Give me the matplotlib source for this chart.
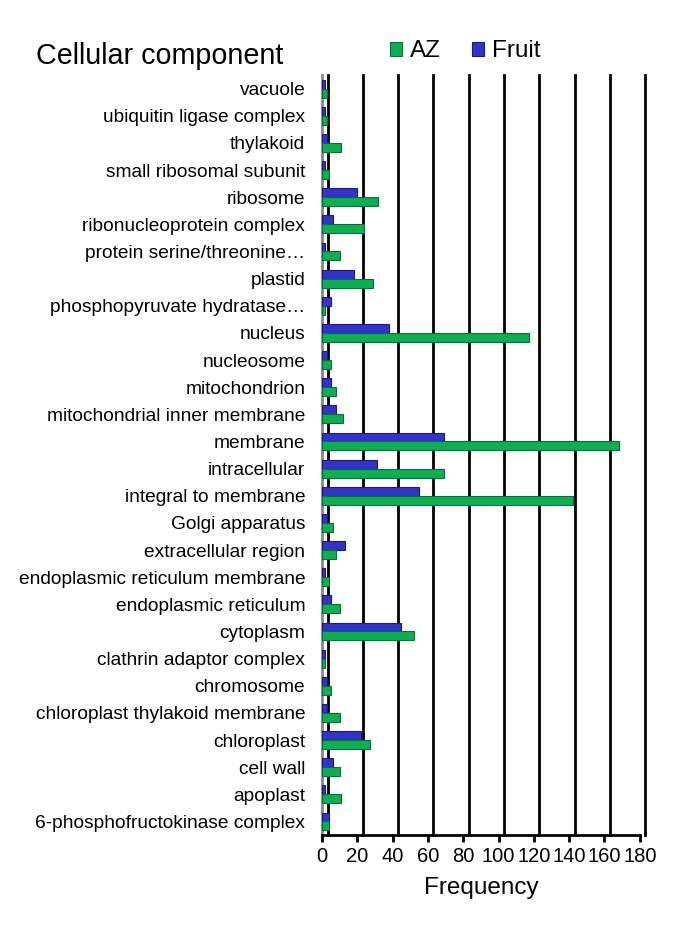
import numpy as np
import matplotlib.pyplot as plt
import matplotlib.transforms as mtransforms

plt.rcParams['font.family'] = ['Liberation Sans', 'DejaVu Sans']

categories = [
    'vacuole', 'ubiquitin ligase complex', 'thylakoid', 'small ribosomal subunit',
    'ribosome', 'ribonucleoprotein complex', 'protein serine/threonine…', 'plastid',
    'phosphopyruvate hydratase…', 'nucleus', 'nucleosome', 'mitochondrion',
    'mitochondrial inner membrane', 'membrane', 'intracellular', 'integral to membrane',
    'Golgi apparatus', 'extracellular region', 'endoplasmic reticulum membrane',
    'endoplasmic reticulum', 'cytoplasm', 'clathrin adaptor complex', 'chromosome',
    'chloroplast thylakoid membrane', 'chloroplast', 'cell wall', 'apoplast',
    '6-phosphofructokinase complex',
]
fruit = [2, 2, 3, 2, 20, 6, 1.5, 18, 5, 38, 3, 5, 8, 69, 31, 55,
         3, 13, 1.5, 5, 45, 2, 3, 3, 22, 6, 1.5, 4]
az = [3, 3, 11, 4, 32, 24, 10, 29, 2, 117, 5, 8, 12, 168, 69, 142,
      6, 8, 4, 10, 52, 2, 5, 10, 27, 10, 11, 4]

fig = plt.figure(figsize=(6.85, 9.32), dpi=100)
ax = fig.add_axes([0.470, 0.104, 0.464, 0.8155])

y = np.arange(len(categories))
h = 0.33
ax.barh(y - h / 2, fruit, height=h, color='#3333CC', edgecolor='#1a1a80', linewidth=0.8, label='Fruit', zorder=3)
ax.barh(y + h / 2, az, height=h, color='#0DB050', edgecolor='#07703a', linewidth=0.8, label='AZ', zorder=3)

ax.set_ylim(len(categories) - 0.5, -0.5)
ax.set_xlim(0, 180)
ax.set_xticks(range(0, 181, 20))
ax.set_yticks(y)
ax.set_yticklabels(categories, fontsize=13.8)
ax.tick_params(axis='y', length=0, pad=12)
ax.tick_params(axis='x', labelsize=14.5, width=2, length=5)

# back-wall gridlines, shifted a little to the right like the 3D original
shift = mtransforms.ScaledTranslation(4 / 72, 0, fig.dpi_scale_trans)
for t in range(0, 181, 20):
    ax.plot([t, t], [0, 1], color='black', lw=2, zorder=1, clip_on=False,
            transform=ax.get_xaxis_transform() + shift)

ax.spines['top'].set_visible(False)
ax.spines['right'].set_visible(False)
ax.spines['left'].set_color('#888888')
ax.spines['left'].set_linewidth(2)
ax.spines['bottom'].set_linewidth(2)

ax.set_xlabel('Frequency', fontsize=17.5, labelpad=8)
fig.text(0.053, 0.94, 'Cellular component', fontsize=20.7, ha='left', va='center')

handles, labels = ax.get_legend_handles_labels()
fig.legend(handles[::-1], labels[::-1], loc='center', bbox_to_anchor=(0.679, 0.945), ncol=2,
           frameon=False, fontsize=17.5, handlelength=0.5, handleheight=0.5,
           columnspacing=1.3, handletextpad=0.3)

fig.savefig('out.png', dpi=100)
